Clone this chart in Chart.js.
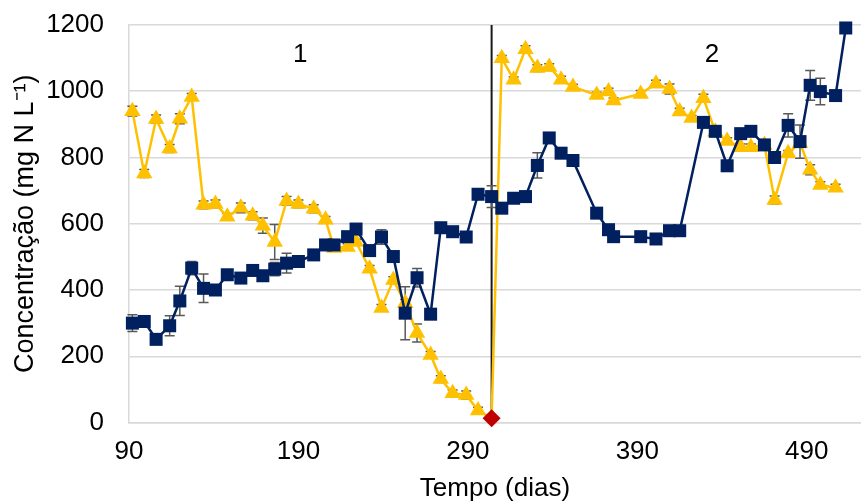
<!DOCTYPE html>
<html>
<head>
<meta charset="utf-8">
<script src="https://cdn.jsdelivr.net/npm/chart.js@4"></script>
<style>
  html, body { margin: 0; padding: 0; background: #fff; }
  #wrap { width: 861px; height: 504px; position: relative; }
</style>
</head>
<body>
<div id="wrap"><canvas id="myChart"></canvas></div>
<script>
// dias de operação (eixo x)
const days = [92, 99, 106, 114, 120, 127, 134, 141, 148, 156,
  163, 169, 176, 183, 190, 199, 206, 211, 219, 224,
  232, 239, 246, 253, 260, 268, 274, 281, 289, 296,
  304,
  310, 317, 324, 331, 338, 345, 352, 366, 373, 376, 392, 401, 409, 415,
  422,
  429, 436, 443, 451, 457, 465, 471, 479, 486, 492, 498, 507,
  513];

// serie amarela (triangulos)
const yellowValues = [940, 752, 916, 827, 917, 983, 657, 660, 621, 648,
  624, 594, 545, 669, 660, 645, 612, 527, 530, 545,
  464, 346, 430, 361, 270, 204, 131, 88, 83, 36,
  13,
  1100, 1035, 1127, 1070, 1073, 1035, 1013, 989, 999, 972, 992, 1023, 1007, 939,
  919,
  979, 878, 850, 831, 831, 838, 672, 813, 844, 763, 717, 709,
  null];
const yellowErr = [15, 12, 12, 12, 15, 10, 12, 12, 10, 15,
  12, 23, 53, 13, 12, 12, 10, 10, 10, 8,
  10, 10, 10, 10, 27, 10, 10, 10, 12, 10,
  0,
  8, 8, 10, 10, 10, 10, 8, 8, 10, 8, 10, 10, 15, 10,
  8,
  12, 10, 10, 10, 10, 10, 12, 8, 10, 15, 10, 10,
  null];

// serie azul (quadrados)
const blueValues = [300, 305, 251, 292, 367, 466, 405, 400, 446, 436,
  459, 443, 463, 481, 486, 506, 536, 536, 561, 584,
  519, 560, 501, 330, 437, 327, 588, 576, 560, 689,
  682,
  647, 677, 682, 776, 859, 813, 791, 632, 582, 561, 561, 554, 579, 579,
  null,
  906, 879, 775, 872, 879, 838, 800, 897, 848, 1018, 999, 987,
  1191];
const blueErr = [25, 8, 5, 30, 44, 20, 43, 5, 8, 8,
  8, 8, 20, 30, 10, 5, 8, 5, 8, 8,
  5, 22, 8, 80, 28, 5, 5, 5, 5, 5,
  33,
  8, 5, 5, 38, 5, 5, 5, 5, 5, 5, 5, 5, 5, 5,
  null,
  5, 5, 5, 5, 5, 5, 5, 35, 50, 45, 40, 5,
  5];

const xTicks = [90, 190, 290, 390, 490];
const phaseDay = 304;          // mudança de fase (linha vertical / losango)
const phaseLabels = ['1', '2'];
const phaseLabelDays = [191, 434];
const phaseLabelValue = 1110;

const FONT = '"Liberation Sans", Arial, sans-serif';

function toPoints(vals, errs) {
  var pts = [];
  for (var i = 0; i < days.length; i++) {
    if (vals[i] === null) continue;
    pts.push({ x: days[i], y: vals[i], err: errs[i] });
  }
  return pts;
}

function noPadding(scale) {
  scale.paddingTop = 0;
  scale.paddingBottom = 0;
  scale.paddingLeft = 0;
  scale.paddingRight = 0;
}

const extras = {
  id: 'extras',
  beforeDatasetsDraw(chart) {
    const ctx = chart.ctx;
    const area = chart.chartArea;
    const x = chart.scales.x, y = chart.scales.y;
    ctx.save();
    // linha vertical
    const px = x.getPixelForValue(phaseDay);
    ctx.strokeStyle = '#1a1a1a';
    ctx.lineWidth = 2;
    ctx.beginPath();
    ctx.moveTo(px, area.top);
    ctx.lineTo(px, area.bottom);
    ctx.stroke();
    // barras de erro
    ctx.strokeStyle = '#595959';
    ctx.lineWidth = 1.5;
    chart.data.datasets.forEach(function(ds, di) {
      const meta = chart.getDatasetMeta(di);
      ds.data.forEach(function(p, i) {
        if (!p.err) return;
        const el = meta.data[i];
        const y1 = y.getPixelForValue(p.y + p.err);
        const y2 = y.getPixelForValue(p.y - p.err);
        ctx.beginPath();
        ctx.moveTo(el.x, y1); ctx.lineTo(el.x, y2);
        ctx.moveTo(el.x - 5, y1); ctx.lineTo(el.x + 5, y1);
        ctx.moveTo(el.x - 5, y2); ctx.lineTo(el.x + 5, y2);
        ctx.stroke();
      });
    });
    // rotulos das fases
    ctx.fillStyle = '#000';
    ctx.font = '26px ' + FONT;
    ctx.textAlign = 'center';
    ctx.textBaseline = 'middle';
    phaseLabels.forEach(function(t, i) {
      ctx.fillText(t, x.getPixelForValue(phaseLabelDays[i]), y.getPixelForValue(phaseLabelValue));
    });
    ctx.restore();
  }
};

var ctx = document.getElementById('myChart').getContext('2d');
var myChart = new Chart(ctx, {
  type: 'line',
  data: {
    datasets: [{
      label: 'azul',
      data: toPoints(blueValues, blueErr),
      borderColor: '#002060',
      backgroundColor: '#002060',
      borderWidth: 2.5,
      pointStyle: 'rect',
      pointRadius: 9.2,
      pointBorderWidth: 0,
      pointBackgroundColor: '#002060',
      tension: 0,
      clip: false
    }, {
      label: 'amarela',
      data: toPoints(yellowValues, yellowErr),
      borderColor: '#FFC000',
      backgroundColor: '#FFC000',
      borderWidth: 2.5,
      pointStyle: function(c) { return c.raw && c.raw.x === phaseDay ? 'rectRot' : 'triangle'; },
      pointRadius: function(c) { return c.raw && c.raw.x === phaseDay ? 9 : 9.5; },
      pointBorderWidth: 0,
      pointBackgroundColor: function(c) { return c.raw && c.raw.x === phaseDay ? '#C00000' : '#FFC000'; },
      tension: 0,
      clip: false
    }]
  },
  options: {
    responsive: true,
    maintainAspectRatio: false,
    animation: false,
    events: [],
    layout: { autoPadding: false, padding: { top: 25, right: 0, left: 0, bottom: 0 } },
    plugins: {
      legend: { display: false },
      tooltip: { enabled: false }
    },
    scales: {
      x: {
        type: 'linear',
        min: 90,
        max: 522,
        afterBuildTicks: function(scale) {
          scale.ticks = xTicks.map(function(v) { return { value: v }; });
        },
        afterFit: function(scale) { scale.height = 81.5; noPadding(scale); },
        grid: { display: false, drawTicks: false },
        border: { display: true, color: '#d9d9d9', width: 1.5 },
        ticks: { color: '#000', padding: 14, font: { family: FONT, size: 26 }, maxRotation: 0,
          callback: function(v) { return String(v); } },
        title: { display: true, text: 'Tempo (dias)', color: '#000', padding: { top: 0, bottom: 0 }, font: { family: FONT, size: 26 } }
      },
      y: {
        min: 0,
        max: 1200,
        afterFit: function(scale) { scale.width = 129; noPadding(scale); },
        grid: { color: '#d9d9d9', lineWidth: 1.5, drawTicks: false },
        border: { display: true, color: '#d9d9d9', width: 1.5 },
        ticks: { stepSize: 200, color: '#000', padding: 25, font: { family: FONT, size: 26 },
          callback: function(v) { return String(v); } },
        title: { display: true, text: 'Concentração (mg N L⁻¹)', color: '#000', padding: { top: 9, bottom: 0 }, font: { family: FONT, size: 27 } }
      }
    }
  },
  plugins: [extras]
});
</script>
</body>
</html>
